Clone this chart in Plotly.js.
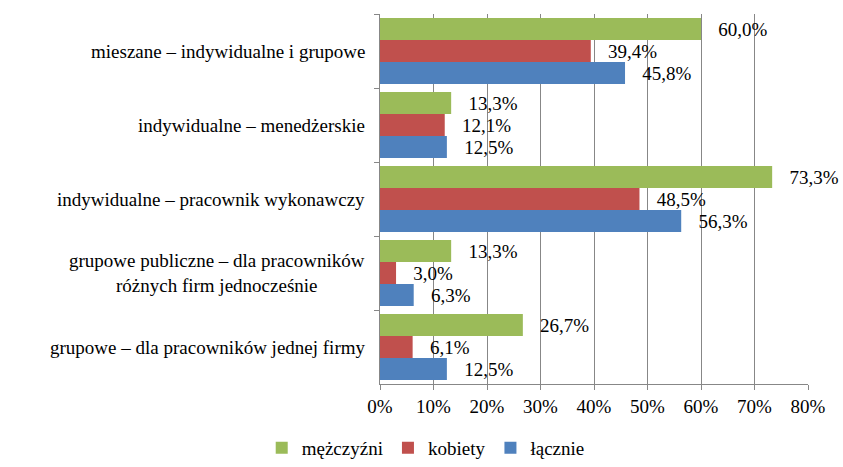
<!DOCTYPE html>
<html>
<head>
<meta charset="utf-8">
<script src="https://cdn.plot.ly/plotly-3.0.1.min.js"></script>
</head>
<body style="margin:0;background:#fff">
<div id="chart" style="width:843px;height:467px"></div>
<script>
// Categories, top to bottom
const categories = [
  "mieszane – indywidualne i grupowe",
  "indywidualne – menedżerskie",
  "indywidualne – pracownik wykonawczy",
  "grupowe publiczne – dla pracowników<br>różnych firm jednocześnie",
  "grupowe – dla pracowników jednej firmy"
];
const seriesNames = ["mężczyźni", "kobiety", "łącznie"];
const mezczyzni = [60.0, 13.3, 73.3, 13.3, 26.7];
const kobiety   = [39.4, 12.1, 48.5, 3.0, 6.1];
const lacznie   = [45.8, 12.5, 56.3, 6.3, 12.5];
const xTicks = [0, 10, 20, 30, 40, 50, 60, 70, 80];

const colors = ["#9BBB59", "#C0504D", "#4F81BD"];
const serifFamily = "serif";
const catIdx = categories.map((c, i) => i);
const fmt = v => "\u00a0\u00a0\u00a0" + v.toFixed(1).replace(".", ",") + "%";

const values = [mezczyzni, kobiety, lacznie];
const traces = values.map((vals, k) => ({
  type: "bar",
  orientation: "h",
  name: seriesNames[k],
  x: vals,
  y: catIdx,
  marker: {color: colors[k]},
  text: vals.map(fmt),
  textposition: "outside",
  constraintext: "none",
  cliponaxis: false,
  textfont: {family: serifFamily, size: 19, color: "#000"},
  hoverinfo: "skip"
}));

const annotations = categories.map((c, i) => ({
  xref: "paper", yref: "y",
  x: 0, y: i,
  xanchor: "right", yanchor: "middle",
  xshift: -13,
  align: "center",
  showarrow: false,
  text: c,
  font: {family: serifFamily, size: 19, color: "#000"}
}));

const layout = {
  width: 843, height: 467,
  margin: {l: 380, r: 35, t: 14, b: 83},
  paper_bgcolor: "#fff", plot_bgcolor: "#fff",
  barmode: "group",
  bargap: 0.108,
  bargroupgap: 0,
  font: {family: serifFamily, size: 19, color: "#000"},
  xaxis: {
    range: [0, 80],
    tickvals: xTicks,
    ticktext: xTicks.map(v => v + "%"),
    showgrid: true, gridcolor: "#878787", gridwidth: 1,
    zeroline: false,
    showline: true, linecolor: "#878787", linewidth: 1,
    ticks: "outside", ticklen: 5, tickcolor: "#878787",
    tickfont: {family: serifFamily, size: 19, color: "#000"},
    fixedrange: true
  },
  yaxis: {
    type: "category",
    autorange: "reversed",
    showticklabels: false,
    tickson: "boundaries",
    ticks: "outside", ticklen: 5, tickcolor: "#878787",
    showgrid: false, zeroline: false,
    showline: true, linecolor: "#878787", linewidth: 1,
    fixedrange: true
  },
  showlegend: true,
  legend: {
    orientation: "h",
    xref: "container", yref: "container",
    x: 0.505, xanchor: "center",
    y: 0.0, yanchor: "bottom",
    font: {family: serifFamily, size: 19, color: "#000"},
    traceorder: "normal"
  },
  annotations: annotations
};

Plotly.newPlot("chart", traces, layout, {displayModeBar: false});
</script>
</body>
</html>
